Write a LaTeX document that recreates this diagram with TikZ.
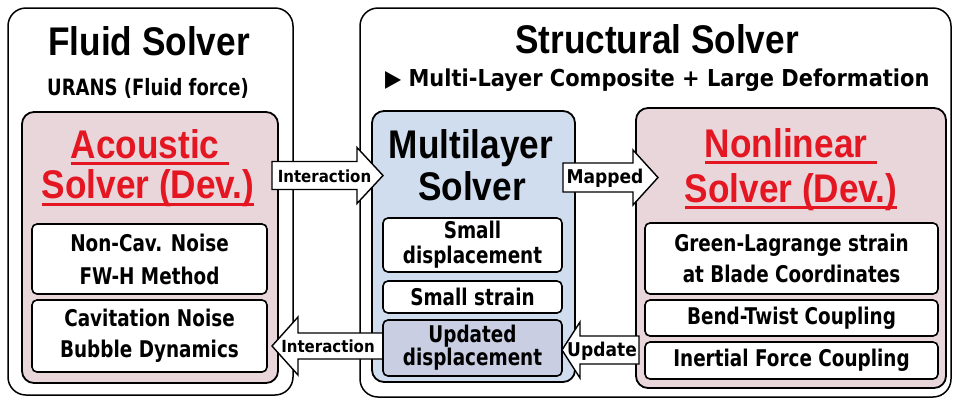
\documentclass[tikz,border=0pt]{standalone}
\usepackage{fontspec}
\setmainfont{Liberation Sans}
\newfontfamily\ttlfont[FakeStretch=0.88]{Liberation Sans}
\newfontfamily\dvs[FakeStretch=0.8]{DejaVu Sans}
\newfontfamily\dvw[FakeStretch=0.9]{DejaVu Sans}
\definecolor{pinkc}{RGB}{232,214,219}
\definecolor{bluec}{RGB}{208,221,238}
\definecolor{updc}{RGB}{201,206,226}
\definecolor{redc}{RGB}{228,22,34}
\newcommand\myul[2]{\setbox0\hbox{#1}\rlap{\rule[#2]{\wd0}{2.6pt}}\box0}
\newcommand\blockarr[6]{% tail x, head base x, tip x, centre y, body half, head half
  \draw[blockarrow] (#1,#4-#5) -- (#2,#4-#5) -- (#2,#4-#6) -- (#3,#4) -- (#2,#4+#6) -- (#2,#4+#5) -- (#1,#4+#5) -- cycle;}
\begin{document}
\begin{tikzpicture}[x=1pt,y=-1pt,
  outerbox/.style={draw=black, line width=1.5pt, rounded corners=18pt, fill=white, inner sep=0pt},
  pinkbox/.style={draw=black, line width=1.8pt, rounded corners=12pt, fill=pinkc, inner sep=0pt},
  bluebox/.style={pinkbox, fill=bluec},
  innerbox/.style={draw=black, line width=1.6pt, rounded corners=5pt, fill=white, inner sep=0pt, align=center, font=\dvs\bfseries\fontsize{23}{31}\selectfont},
  ttl/.style={font=\ttlfont\bfseries\fontsize{40}{44}\selectfont, inner sep=0pt, anchor=base},
  redttl/.style={ttl, text=redc},
  subttl/.style={font=\dvs\bfseries\fontsize{22.5}{26}\selectfont, inner sep=0pt, anchor=base},
  blockarrow/.style={draw=black, line width=1.4pt, fill=white, line join=miter},
  arrlabel/.style={font=\dvw\bfseries\fontsize{16.7}{20}\selectfont, inner sep=0pt}
]
\useasboundingbox (0,0) rectangle (953,400);
% outer boxes
\node[outerbox, minimum width=285pt, minimum height=387pt] (fluid) at (150.5,201.5) {};
\node[outerbox, minimum width=591pt, minimum height=389pt] (struct) at (655.5,202.5) {};
% titles
\node[ttl] (fluidttl) at (149,55) {Fluid Solver};
\node[subttl] (urans) at (148,95) {URANS (Fluid force)};
\node[ttl] (structttl) at (657,53) {Structural Solver};
\node[subttl, anchor=base west, font=\dvw\bfseries\fontsize{23.3}{26}\selectfont] (mlc) at (385,86) {{\mdseries ▶}\ Multi-Layer Composite + Large Deformation};
% coloured solver boxes
\node[pinkbox, minimum width=256pt, minimum height=271pt] (acou) at (150,247.5) {};
\node[bluebox, minimum width=203pt, minimum height=271pt] (multi) at (473.5,246.5) {};
\node[pinkbox, minimum width=310pt, minimum height=280pt] (nonlin) at (791,248) {};
% solver titles
\node[redttl] (acou1) at (150,158) {\myul{Acoustic\ }{-6.5pt}};
\node[redttl] (acou2) at (148,198) {\myul{Solver (Dev.)}{-8pt}};
\node[ttl] (multi1) at (471,158) {Multilayer};
\node[ttl] (multi2) at (472,200) {Solver};
\node[redttl] (nonlin1) at (791,157) {\myul{Nonlinear\ }{-6.5pt}};
\node[redttl] (nonlin2) at (791,202) {\myul{Solver (Dev.)}{-6.5pt}};
% block arrows
\blockarr{272}{357}{383}{175.5}{14}{28}
\blockarr{383}{298}{272}{346}{13}{29}
\blockarr{563}{633}{658}{177.5}{14.5}{27.5}
\blockarr{639}{580}{562}{350}{14}{28}
\node[arrlabel] (lint1) at (324.5,176) {Interaction};
\node[arrlabel] (lint2) at (328,346) {Interaction};
\node[arrlabel, font=\dvw\bfseries\fontsize{19}{22}\selectfont] (lmap) at (605,178) {Mapped};
\node[arrlabel, font=\dvw\bfseries\fontsize{19}{22}\selectfont] (lupd) at (602,351) {Update};
% inner boxes
\node[innerbox, minimum width=235pt, minimum height=70pt, font=\dvs\bfseries\fontsize{23}{33}\selectfont] (noncav) at (149.5,259) {Non-Cav. Noise\\FW-H Method};
\node[innerbox, minimum width=235pt, minimum height=72pt] (cav) at (149.5,336) {Cavitation Noise\\Bubble Dynamics};
\node[innerbox, minimum width=179pt, minimum height=54pt, font=\dvs\bfseries\fontsize{23}{25}\selectfont] (sdisp) at (472.5,245) {Small\\displacement};
\node[innerbox, minimum width=179pt, minimum height=32pt] (sstrain) at (472.5,297) {Small strain};
\node[innerbox, fill=updc, minimum width=179pt, minimum height=56pt, font=\dvs\bfseries\fontsize{23}{23}\selectfont] (udisp) at (472.5,348) {Updated\\displacement};
\node[innerbox, minimum width=293pt, minimum height=71pt] (green) at (791.5,258.5) {Green-Lagrange strain\\at Blade Coordinates};
\node[innerbox, minimum width=293pt, minimum height=36pt] (bend) at (791.5,318) {Bend-Twist Coupling};
\node[innerbox, minimum width=293pt, minimum height=37pt] (inert) at (791.5,360.5) {Inertial Force Coupling};
\end{tikzpicture}
\end{document}
